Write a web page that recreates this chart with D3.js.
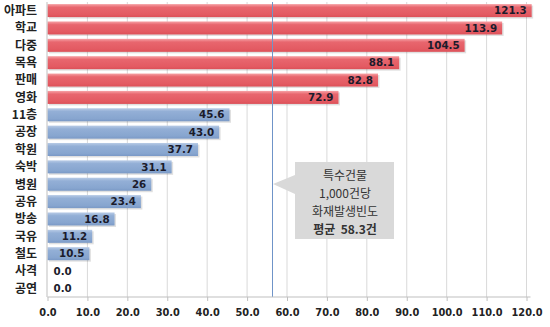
<!DOCTYPE html>
<html><head><meta charset="utf-8">
<script src="https://cdn.jsdelivr.net/npm/d3@7"></script>
<style>body{margin:0;background:#fff}svg{display:block}</style>
</head><body>
<script>
const categories = ["아파트","학교","다중","목욕","판매","영화","11층","공장","학원","숙박","병원","공유","방송","국유","철도","사격","공연"];
const values = [121.3,113.9,104.5,88.1,82.8,72.9,45.6,43.0,37.7,31.1,26,23.4,16.8,11.2,10.5,0.0,0.0];
const valueLabels = ["121.3","113.9","104.5","88.1","82.8","72.9","45.6","43.0","37.7","31.1","26","23.4","16.8","11.2","10.5","0.0","0.0"];
const groups = ["high","high","high","high","high","high","low","low","low","low","low","low","low","low","low","low","low"];
const ticks = [0,10,20,30,40,50,60,70,80,90,100,110,120];
const avgLinePos = [56.3];
const calloutLines = ["특수건물","1,000건당","화재발생빈도","평균  58.3건"];

const W=550,H=327;
const m={l:47.5,r:24,t:2,b:30};
const svg=d3.select("body").append("svg").attr("width",W).attr("height",H);
const defs=svg.append("defs");
function grad(id,stops){const g=defs.append("linearGradient").attr("id",id).attr("x1",0).attr("y1",0).attr("x2",0).attr("y2",1);
 stops.forEach(s=>g.append("stop").attr("offset",s[0]).attr("stop-color",s[1]));}
grad("gRed",[[0,"#f6a2a6"],[0.25,"#e8666e"],[0.8,"#e35a62"],[1,"#dc5058"]]);
grad("gBlue",[[0,"#b8cbe6"],[0.25,"#93afd6"],[0.8,"#87a5cf"],[1,"#7a99c6"]]);

const x=d3.scaleLinear().domain([0,120]).range([m.l,m.l+479]);
const y=d3.scaleBand().domain(categories).range([m.t,H-m.b]).paddingInner(0.25).paddingOuter(0.12);
const y0=H-m.b;

// grid
svg.append("g").selectAll("line").data(ticks.slice(1)).join("line")
 .attr("x1",d=>x(d)).attr("x2",d=>x(d)).attr("y1",m.t).attr("y2",y0)
 .attr("stroke","#d9d9d9").attr("stroke-width",1);

// shadows
svg.append("g").selectAll("rect").data(values).join("rect")
 .attr("x",x(0)+1.5).attr("y",(d,i)=>y(categories[i])+1.5)
 .attr("width",d=>Math.max(0,x(d)-x(0))).attr("height",y.bandwidth())
 .attr("fill","#000").attr("opacity",d=>d>0?0.12:0);
// bars
svg.append("g").selectAll("rect").data(values).join("rect")
 .attr("x",x(0)).attr("y",(d,i)=>y(categories[i]))
 .attr("width",d=>x(d)-x(0)).attr("height",y.bandwidth())
 .attr("fill",(d,i)=>groups[i]==="high"?"url(#gRed)":"url(#gBlue)");

// avg line
svg.append("g").selectAll("line").data(avgLinePos).join("line")
 .attr("x1",d=>Math.round(x(d))+0.5).attr("x2",d=>Math.round(x(d))+0.5).attr("y1",m.t).attr("y2",y0)
 .attr("stroke","#6f94c8").attr("stroke-width",1);

// axes
const xa=svg.append("g").attr("transform",`translate(0,${y0})`)
 .call(d3.axisBottom(x).tickValues(ticks).tickFormat(d3.format(".1f")).tickSize(4).tickPadding(8));
xa.select(".domain").attr("stroke","#bfbfbf").attr("d",`M${x(0)},0H${x(120)+4}`);
xa.selectAll(".tick line").attr("stroke","#bfbfbf");
xa.selectAll("text").attr("font-family","'DejaVu Sans',sans-serif").attr("font-weight","bold").attr("font-size","9.8px").attr("fill","#222");
svg.append("line").attr("x1",x(0)-0.5).attr("x2",x(0)-0.5).attr("y1",m.t).attr("y2",y0).attr("stroke","#bfbfbf");

// category labels
svg.append("g").selectAll("text").data(categories).join("text")
 .attr("x",37).attr("y",d=>y(d)+y.bandwidth()/2).attr("dy","0.36em")
 .attr("text-anchor","end").attr("font-family","'Noto Sans CJK KR',sans-serif")
 .attr("font-weight","bold").attr("font-size","12px").attr("fill","#222").text(d=>d);

// value labels
svg.append("g").selectAll("text").data(values).join("text")
 .attr("x",d=>d>0?x(d)-5:x(0)+6).attr("y",(d,i)=>y(categories[i])+y.bandwidth()/2).attr("dy","0.36em")
 .attr("text-anchor",d=>d>0?"end":"start")
 .attr("font-family","'DejaVu Sans',sans-serif").attr("font-weight","bold").attr("font-size","10.3px")
 .attr("fill","#1b1b2b").text((d,i)=>valueLabels[i]);

// callout
const cg=svg.append("g");
cg.append("path").attr("d","M295,162 H394 V239 H295 V194 L273,184 L295,175 Z").attr("fill","#d9d9d9");
cg.selectAll("text").data(calloutLines).join("text")
 .attr("x",345).attr("y",(d,i)=>179.5+i*18).attr("text-anchor","middle")
 .attr("font-family","'Noto Sans CJK KR',sans-serif").attr("font-size","12px")
 .attr("font-weight",(d,i)=>i===3?"bold":"normal").attr("fill","#333")
 .attr("xml:space","preserve").style("white-space","pre").text(d=>d);
</script>
</body></html>
